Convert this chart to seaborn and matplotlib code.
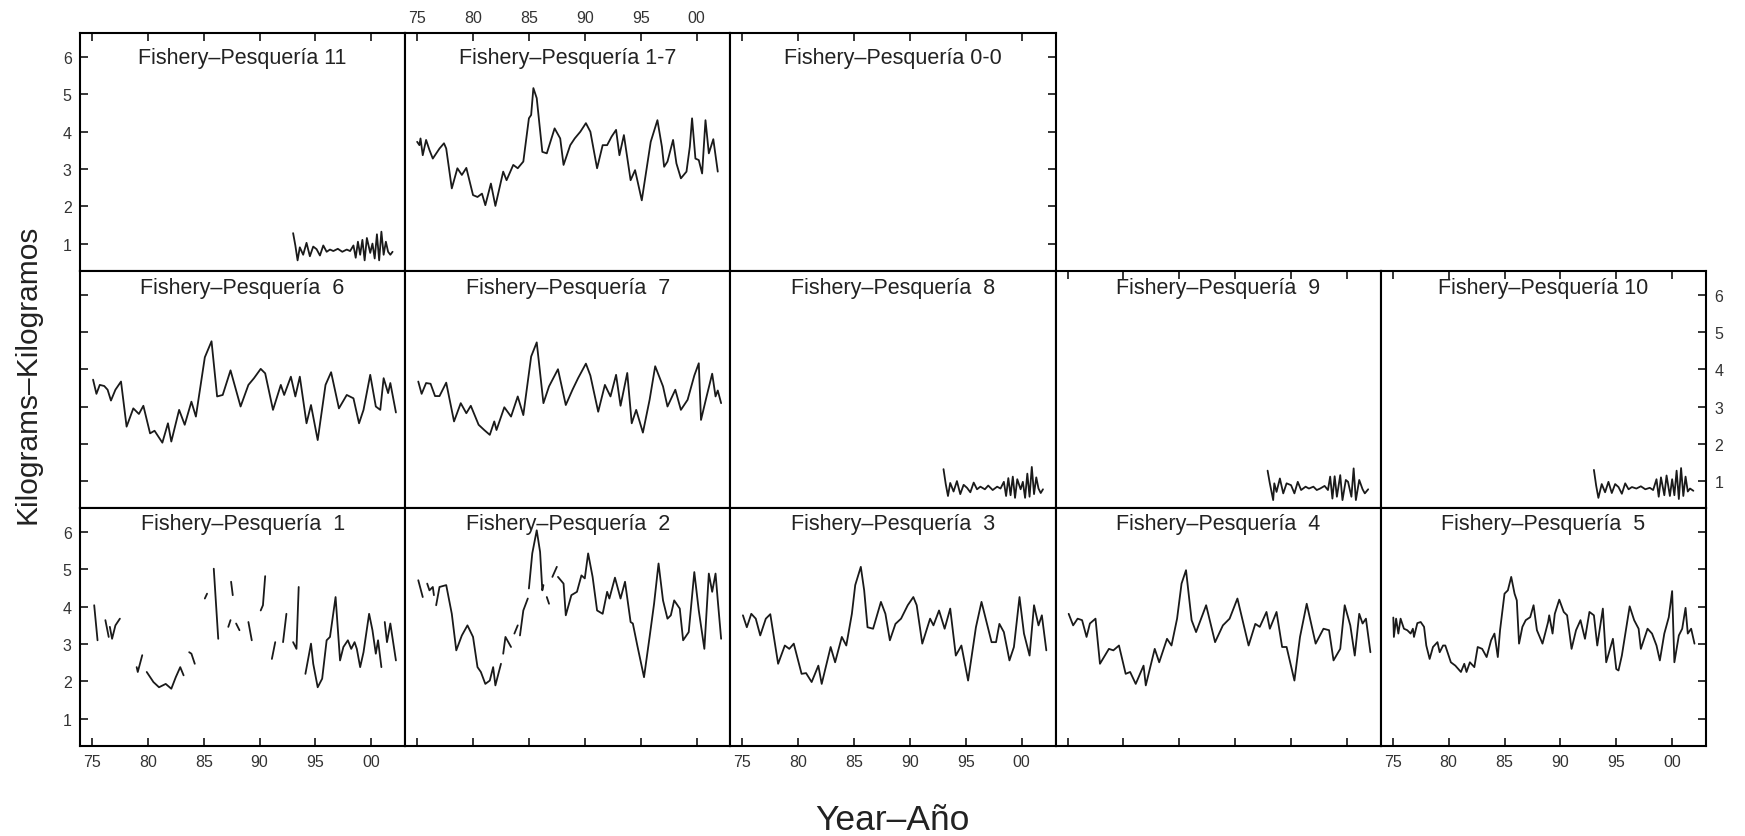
import numpy as np
import pandas as pd
import matplotlib
matplotlib.use('Agg')
import matplotlib.pyplot as plt
import seaborn as sns

nan = np.nan

# Fishery 1 (broken series, nan = gap)
yr_f1 = [1975.2, 1975.5, nan,
         1976.2, 1976.5, nan,
         1976.6, 1976.8, 1977.1, 1977.5, nan,
         1979.0, 1979.1, 1979.5, nan,
         1979.9, 1980.5, 1981.0, 1981.6, 1982.1, 1982.5, 1982.9, 1983.2, nan,
         1983.7, 1983.9, 1984.2, nan,
         1985.1, 1985.3, nan,
         1985.9, 1986.3, nan,
         1987.2, 1987.4, nan,
         1987.45, 1987.6, nan,
         1987.9, 1988.2, nan,
         1989.0, 1989.3, nan,
         1990.1, 1990.3, 1990.5, nan,
         1991.1, 1991.4, nan,
         1992.1, 1992.4, nan,
         1993.0, 1993.3, 1993.5, nan,
         1994.1, 1994.6, 1994.8, 1995.2, 1995.6, 1996.0, 1996.3, 1996.8, 1997.2,
         1997.5, 1997.9, 1998.2, 1998.5, 1998.7, 1999.0, 1999.3, 1999.8, 2000.1,
         2000.4, 2000.6, 2000.9, nan,
         2001.2, 2001.4, 2001.7, 2002.2]
kg_f1 = [4.04, 3.10, nan,
         3.64, 3.19, nan,
         3.46, 3.14, 3.50, 3.68, nan,
         2.38, 2.25, 2.70, nan,
         2.25, 1.98, 1.84, 1.93, 1.80, 2.11, 2.38, 2.16, nan,
         2.78, 2.74, 2.47, nan,
         4.22, 4.35, nan,
         5.02, 3.14, nan,
         3.46, 3.64, nan,
         4.67, 4.31, nan,
         3.55, 3.37, nan,
         3.59, 3.10, nan,
         3.90, 4.04, 4.82, nan,
         2.60, 3.05, nan,
         3.05, 3.81, nan,
         3.05, 2.87, 4.53, nan,
         2.20, 3.01, 2.47, 1.84, 2.07, 3.10, 3.19, 4.26, 2.56,
         2.92, 3.10, 2.87, 3.05, 2.87, 2.38, 2.78, 3.81, 3.37,
         2.74, 3.10, 2.38, nan,
         3.59, 3.05, 3.55, 2.56]

# Fishery 2 (broken series)
yr_f2 = [1975.1, 1975.5, nan,
         1975.9, 1976.1, 1976.4, 1976.5, nan,
         1976.7, 1977.0, 1977.6, 1978.1, 1978.5, 1979.0, 1979.5, 1980.0, 1980.4,
         1980.7, 1981.1, 1981.5, 1981.8, 1982.0, 1982.5, nan,
         1982.7, 1982.9, 1983.4, nan,
         1983.7, 1984.0, nan,
         1984.2, 1984.5, 1984.9, nan,
         1985.0, 1985.3, 1985.7, 1986.0, 1986.2, 1986.3, nan,
         1986.6, 1986.8, nan,
         1987.1, 1987.5, nan,
         1987.6, 1988.1, 1988.3, 1988.8, 1989.3, 1989.7, 1990.0, 1990.3, 1990.7,
         1991.1, 1991.6, 1992.0, 1992.2, 1992.7, 1993.2, 1993.6, 1994.1, 1994.3,
         1994.7, 1995.3, 1995.8, 1996.2, 1996.6, 1997.0, 1997.4, 1997.7, 1998.0,
         1998.5, 1998.8, 1999.3, 1999.8, 2000.2, 2000.7, 2001.1, 2001.4, 2001.7,
         2001.9, 2002.2]
kg_f2 = [4.71, 4.26, nan,
         4.62, 4.44, 4.53, 4.31, nan,
         4.04, 4.53, 4.58, 3.81, 2.83, 3.23, 3.50, 3.19, 2.38,
         2.25, 1.93, 2.02, 2.38, 1.89, 2.47, nan,
         2.74, 3.19, 2.92, nan,
         3.28, 3.50, nan,
         3.23, 3.90, 4.22, nan,
         4.49, 5.43, 6.05, 5.47, 4.44, 4.58, nan,
         4.26, 4.08, nan,
         4.80, 5.07, nan,
         4.80, 4.62, 3.77, 4.31, 4.40, 4.84, 4.76, 5.43, 4.80,
         3.90, 3.81, 4.40, 4.22, 4.78, 4.22, 4.67, 3.59, 3.55,
         2.96, 2.11, 3.19, 4.08, 5.16, 4.17, 3.68, 3.77, 4.17,
         3.95, 3.10, 3.32, 4.93, 3.90, 2.87, 4.89, 4.40, 4.89,
         4.17, 3.14]

yr_f3 = [1975.05, 1975.4, 1975.8, 1976.2, 1976.6, 1977.1, 1977.5, 1978.2, 1978.8, 1979.2,
         1979.6, 1980.3, 1980.7, 1981.2, 1981.8, 1982.1, 1982.9, 1983.3, 1983.9, 1984.3,
         1984.8, 1985.1, 1985.6, 1985.9, 1986.2, 1986.7, 1987.4, 1987.8, 1988.2, 1988.7,
         1989.2, 1989.8, 1990.3, 1990.6, 1991.1, 1991.8, 1992.1, 1992.6, 1993.1, 1993.6,
         1994.1, 1994.6, 1995.2, 1995.9, 1996.4, 1997.3, 1997.7, 1998.0, 1998.4, 1998.9,
         1999.3, 1999.8, 2000.2, 2000.7, 2001.1, 2001.5, 2001.8, 2002.2]
kg_f3 = [3.77, 3.45, 3.81, 3.68, 3.23, 3.68, 3.80, 2.47, 2.96, 2.87,
         3.01, 2.20, 2.22, 1.98, 2.42, 1.93, 2.92, 2.51, 3.19, 2.96,
         3.81, 4.58, 5.07, 4.44, 3.45, 3.41, 4.13, 3.81, 3.10, 3.54,
         3.68, 4.04, 4.26, 4.04, 3.01, 3.68, 3.50, 3.90, 3.41, 3.95,
         2.69, 2.96, 2.02, 3.45, 4.13, 3.05, 3.05, 3.54, 3.32, 2.56,
         2.92, 4.26, 3.28, 2.69, 4.04, 3.50, 3.77, 2.83]

yr_f4 = [1975.1, 1975.5, 1975.9, 1976.3, 1976.7, 1977.0, 1977.5, 1977.9, 1978.7, 1979.1,
         1979.6, 1980.2, 1980.6, 1981.1, 1981.8, 1982.0, 1982.8, 1983.2, 1983.9, 1984.3,
         1984.8, 1985.2, 1985.6, 1986.1, 1986.5, 1987.4, 1988.2, 1988.9, 1989.5, 1990.2,
         1991.2, 1991.8, 1992.2, 1992.8, 1993.1, 1993.7, 1994.2, 1994.6, 1995.3, 1995.8,
         1996.4, 1997.2, 1997.9, 1998.4, 1998.8, 1999.4, 1999.8, 2000.3, 2000.7, 2001.1,
         2001.4, 2001.7, 2002.1]
kg_f4 = [3.81, 3.50, 3.68, 3.64, 3.19, 3.55, 3.68, 2.47, 2.87, 2.83,
         2.96, 2.20, 2.25, 1.93, 2.42, 1.89, 2.87, 2.51, 3.14, 2.96,
         3.68, 4.62, 4.98, 3.64, 3.32, 4.04, 3.05, 3.50, 3.68, 4.22,
         2.96, 3.54, 3.46, 3.86, 3.41, 3.86, 2.92, 2.92, 2.02, 3.19,
         4.08, 3.01, 3.41, 3.37, 2.56, 2.87, 4.04, 3.50, 2.69, 3.81,
         3.55, 3.68, 2.78]

yr_f5 = [1975.05, 1975.1, 1975.3, 1975.5, 1975.7, 1976.0, 1976.3, 1976.6, 1976.8, 1976.9,
         1977.2, 1977.5, 1977.8, 1978.0, 1978.3, 1978.6, 1979.0, 1979.2, 1979.5, 1979.7,
         1980.2, 1980.6, 1981.1, 1981.4, 1981.6, 1981.9, 1982.3, 1982.6, 1983.0, 1983.4,
         1983.8, 1984.1, 1984.4, 1984.6, 1985.0, 1985.3, 1985.6, 1985.9, 1986.1, 1986.3,
         1986.6, 1986.9, 1987.3, 1987.6, 1987.9, 1988.4, 1988.9, 1989.0, 1989.3, 1989.5,
         1989.9, 1990.3, 1990.6, 1991.0, 1991.4, 1991.8, 1992.2, 1992.6, 1993.0, 1993.3,
         1993.8, 1994.1, 1994.7, 1995.0, 1995.2, 1995.5, 1996.2, 1996.6, 1997.0, 1997.2,
         1997.8, 1998.2, 1998.6, 1998.9, 1999.3, 1999.7, 2000.0, 2000.2, 2000.6, 2000.9,
         2001.2, 2001.4, 2001.7, 2002.0]
kg_f5 = [3.71, 3.19, 3.68, 3.28, 3.68, 3.41, 3.37, 3.28, 3.41, 3.19,
         3.56, 3.59, 3.46, 2.96, 2.60, 2.92, 3.05, 2.78, 2.96, 2.96,
         2.51, 2.42, 2.25, 2.47, 2.25, 2.51, 2.38, 2.92, 2.87, 2.65,
         3.10, 3.28, 2.65, 3.37, 4.35, 4.44, 4.80, 4.35, 4.17, 3.01,
         3.46, 3.64, 3.72, 4.04, 3.37, 3.01, 3.59, 3.77, 3.28, 3.81,
         4.19, 3.86, 3.77, 2.87, 3.37, 3.64, 3.14, 3.86, 3.77, 2.96,
         3.95, 2.51, 3.14, 2.33, 2.29, 2.69, 4.01, 3.64, 3.41, 2.87,
         3.41, 3.28, 2.96, 2.56, 3.28, 3.72, 4.42, 2.51, 3.23, 3.41,
         3.97, 3.28, 3.41, 3.01]

yr_f6 = [1975.1, 1975.4, 1975.7, 1976.1, 1976.4, 1976.7, 1977.1, 1977.6, 1978.1, 1978.7,
         1979.2, 1979.6, 1980.2, 1980.6, 1981.3, 1981.8, 1982.1, 1982.8, 1983.3, 1983.9,
         1984.3, 1985.1, 1985.7, 1986.2, 1986.7, 1987.4, 1988.3, 1989.0, 1989.5, 1990.1,
         1990.5, 1991.2, 1991.9, 1992.2, 1992.8, 1993.2, 1993.6, 1994.2, 1994.6, 1995.2,
         1995.9, 1996.4, 1997.1, 1997.8, 1998.4, 1998.9, 1999.3, 1999.9, 2000.4, 2000.8,
         2001.1, 2001.5, 2001.7, 2002.2]
kg_f6 = [3.72, 3.34, 3.58, 3.55, 3.45, 3.16, 3.45, 3.67, 2.46, 2.95,
         2.80, 3.02, 2.28, 2.35, 2.03, 2.55, 2.06, 2.91, 2.51, 3.13,
         2.73, 4.32, 4.75, 3.27, 3.31, 3.97, 3.00, 3.58, 3.76, 4.01,
         3.89, 2.91, 3.58, 3.31, 3.80, 3.27, 3.80, 2.55, 3.04, 2.10,
         3.58, 3.92, 2.95, 3.31, 3.22, 2.55, 2.91, 3.85, 3.00, 2.91,
         3.76, 3.36, 3.63, 2.84]

yr_f7 = [1975.1, 1975.4, 1975.8, 1976.2, 1976.6, 1977.0, 1977.6, 1978.3, 1978.9, 1979.4,
         1979.8, 1980.5, 1981.0, 1981.5, 1981.9, 1982.1, 1982.8, 1983.4, 1984.0, 1984.5,
         1985.2, 1985.7, 1986.3, 1986.8, 1987.6, 1988.3, 1988.9, 1989.4, 1990.1, 1990.5,
         1991.2, 1991.8, 1992.3, 1992.8, 1993.2, 1993.8, 1994.2, 1994.6, 1995.2, 1995.8,
         1996.3, 1997.0, 1997.4, 1998.1, 1998.6, 1999.2, 1999.8, 2000.2, 2000.4, 2000.9,
         2001.4, 2001.7, 2001.9, 2002.2]
kg_f7 = [3.67, 3.34, 3.63, 3.61, 3.28, 3.28, 3.64, 2.60, 3.09, 2.82,
         3.02, 2.51, 2.37, 2.24, 2.60, 2.37, 2.98, 2.73, 3.27, 2.77,
         4.34, 4.72, 3.09, 3.54, 4.00, 3.04, 3.45, 3.76, 4.15, 3.83,
         2.86, 3.58, 3.27, 3.85, 3.02, 3.90, 2.55, 2.91, 2.30, 3.18,
         4.08, 3.54, 3.00, 3.45, 2.91, 3.18, 3.83, 4.16, 2.64, 3.27,
         3.88, 3.27, 3.43, 3.09]

yr_f17 = [1975.0, 1975.2, 1975.3, 1975.5, 1975.8, 1976.1, 1976.4, 1977.0, 1977.4, 1977.6,
          1978.1, 1978.6, 1979.0, 1979.4, 1980.0, 1980.4, 1980.8, 1981.1, 1981.6, 1982.0,
          1982.7, 1983.0, 1983.6, 1984.0, 1984.5, 1985.0, 1985.2, 1985.4, 1985.7, 1986.2,
          1986.6, 1987.3, 1987.8, 1988.1, 1988.7, 1989.1, 1989.6, 1990.1, 1990.5, 1991.1,
          1991.6, 1992.0, 1992.4, 1992.8, 1993.1, 1993.5, 1994.1, 1994.5, 1995.1, 1995.9,
          1996.5, 1996.9, 1997.1, 1997.4, 1997.9, 1998.2, 1998.6, 1999.1, 1999.4, 1999.6,
          1999.9, 2000.2, 2000.5, 2000.8, 2001.1, 2001.5, 2001.9]
kg_f17 = [3.73, 3.64, 3.82, 3.37, 3.78, 3.51, 3.28, 3.55, 3.69, 3.55,
          2.48, 3.02, 2.84, 3.03, 2.30, 2.25, 2.34, 2.03, 2.61, 2.01,
          2.93, 2.70, 3.11, 3.02, 3.20, 4.36, 4.45, 5.17, 4.90, 3.46,
          3.42, 4.09, 3.82, 3.11, 3.64, 3.82, 4.00, 4.23, 4.00, 3.02,
          3.64, 3.64, 3.87, 4.05, 3.37, 3.91, 2.70, 2.97, 2.16, 3.73,
          4.31, 3.60, 3.06, 3.20, 3.78, 3.15, 2.75, 2.93, 3.60, 4.36,
          3.28, 3.24, 2.88, 4.31, 3.42, 3.80, 2.93]

# short, low series (fisheries 8-11), start in 1993
yr_f8 = [1993.0, 1993.2, 1993.4, 1993.6, 1993.9, 1994.2, 1994.5, 1994.8, 1995.1, 1995.4,
         1995.7, 1996.0, 1996.3, 1996.7, 1997.0, 1997.4, 1997.8, 1998.1, 1998.4, 1998.6,
         1998.8, 1999.0, 1999.2, 1999.4, 1999.6, 1999.9, 2000.1, 2000.3, 2000.5, 2000.7,
         2000.9, 2001.1, 2001.3, 2001.5, 2001.7, 2001.9]
kg_f8 = [1.32, 0.92, 0.60, 0.95, 0.72, 1.00, 0.65, 0.90, 0.82, 0.70,
         0.96, 0.78, 0.85, 0.78, 0.88, 0.76, 0.85, 0.80, 0.98, 0.60,
         1.08, 0.62, 1.12, 0.55, 1.05, 0.78, 0.98, 0.55, 1.20, 0.58,
         1.38, 0.65, 1.10, 0.80, 0.68, 0.78]

yr_f9 = [1992.9, 1993.1, 1993.4, 1993.5, 1993.7, 1994.0, 1994.3, 1994.6, 1995.0, 1995.3,
         1995.6, 1995.9, 1996.3, 1996.6, 1997.0, 1997.3, 1997.6, 1998.0, 1998.3, 1998.5,
         1998.7, 1998.9, 1999.1, 1999.4, 1999.6, 1999.9, 2000.1, 2000.4, 2000.6, 2000.8,
         2001.1, 2001.4, 2001.6, 2001.9]
kg_f9 = [1.28, 0.94, 0.49, 0.94, 0.71, 1.07, 0.67, 0.94, 0.89, 0.67,
         0.98, 0.76, 0.85, 0.80, 0.85, 0.76, 0.80, 0.87, 0.76, 1.12,
         0.53, 1.13, 0.58, 1.16, 0.49, 1.03, 0.98, 0.58, 1.34, 0.49,
         1.03, 0.78, 0.67, 0.78]

yr_f10 = [1993.0, 1993.2, 1993.4, 1993.7, 1994.0, 1994.3, 1994.6, 1994.9, 1995.2, 1995.5,
          1995.8, 1996.1, 1996.4, 1996.8, 1997.2, 1997.6, 1998.0, 1998.3, 1998.6, 1998.8,
          1999.0, 1999.3, 1999.5, 1999.8, 2000.0, 2000.2, 2000.4, 2000.6, 2000.8, 2001.0,
          2001.2, 2001.4, 2001.6, 2001.9]
kg_f10 = [1.30, 0.88, 0.55, 0.92, 0.70, 0.98, 0.68, 0.92, 0.84, 0.66,
          0.94, 0.78, 0.84, 0.80, 0.86, 0.78, 0.82, 0.76, 1.05, 0.58,
          1.10, 0.62, 1.15, 0.60, 1.05, 0.62, 1.28, 0.52, 1.35, 0.60,
          1.12, 0.72, 0.80, 0.74]

yr_f11 = [1993.0, 1993.2, 1993.4, 1993.6, 1993.9, 1994.2, 1994.5, 1994.8, 1995.1, 1995.4,
          1995.7, 1996.0, 1996.3, 1996.6, 1997.0, 1997.4, 1997.8, 1998.1, 1998.4, 1998.6,
          1998.8, 1999.0, 1999.2, 1999.4, 1999.6, 1999.9, 2000.1, 2000.3, 2000.5, 2000.7,
          2000.9, 2001.1, 2001.3, 2001.5, 2001.7, 2001.9]
kg_f11 = [1.28, 0.95, 0.55, 0.90, 0.70, 1.02, 0.66, 0.92, 0.85, 0.68,
          0.95, 0.78, 0.84, 0.80, 0.86, 0.78, 0.84, 0.80, 0.95, 0.62,
          1.05, 0.70, 1.10, 0.55, 1.15, 0.75, 1.00, 0.60, 1.25, 0.55,
          1.32, 0.70, 1.05, 0.78, 0.70, 0.78]

x_ticks = [1975, 1980, 1985, 1990, 1995, 2000]
x_tick_labels = ['75', '80', '85', '90', '95', '00']
y_ticks = [1, 2, 3, 4, 5, 6]

# panel name -> (row, col, data)
panels = {
    '11':  (0, 0, yr_f11, kg_f11),
    '1-7': (0, 1, yr_f17, kg_f17),
    '0-0': (0, 2, [], []),
    ' 6':  (1, 0, yr_f6, kg_f6),
    ' 7':  (1, 1, yr_f7, kg_f7),
    ' 8':  (1, 2, yr_f8, kg_f8),
    ' 9':  (1, 3, yr_f9, kg_f9),
    '10':  (1, 4, yr_f10, kg_f10),
    ' 1':  (2, 0, yr_f1, kg_f1),
    ' 2':  (2, 1, yr_f2, kg_f2),
    ' 3':  (2, 2, yr_f3, kg_f3),
    ' 4':  (2, 3, yr_f4, kg_f4),
    ' 5':  (2, 4, yr_f5, kg_f5),
}

sns.set_theme(style='white')
plt.rcParams['font.family'] = ['Liberation Sans', 'DejaVu Sans']

W_PX, H_PX = 1745, 837
fig = plt.figure(figsize=(W_PX / 100, H_PX / 100), dpi=100)

left0, top0 = 80, 34.3
pw, ph = 325.2, 237.5
title_off = [24, 17, 15]  # px below panel top, per row

for name, (r, c, yrs, kgs) in panels.items():
    rect = [(left0 + c * pw) / W_PX, 1 - (top0 + (r + 1) * ph) / H_PX, pw / W_PX, ph / H_PX]
    ax = fig.add_axes(rect)

    if len(yrs):
        df = pd.DataFrame({'year': yrs, 'kg': kgs})
        df['seg'] = df['kg'].isna().cumsum()
        df = df.dropna()
        sns.lineplot(data=df, x='year', y='kg', units='seg', estimator=None,
                     sort=False, color='#1a1a1a', lw=1.3, ax=ax)

    ax.set_xlim(1973.93, 2003.03)
    ax.set_ylim(0.27, 6.64)
    ax.set_xticks(x_ticks)
    ax.set_xticklabels(x_tick_labels)
    ax.set_yticks(y_ticks)
    ax.set_xlabel('')
    ax.set_ylabel('')
    for sp in ax.spines.values():
        sp.set_color('black')
        sp.set_linewidth(1.5)

    outer_left = c == 0
    outer_right = c == 4 or (r == 0 and c == 2)
    outer_top = r == 0 or (r == 1 and c >= 3)
    outer_bottom = r == 2
    ax.tick_params(axis='both', direction='in', length=6, width=1.1, color='black',
                   labelcolor='#333333', labelsize=11.5, pad=6,
                   left=outer_left, right=outer_right, top=outer_top, bottom=outer_bottom,
                   labelleft=outer_left and r != 1, labelright=(r == 1 and c == 4),
                   labeltop=(r == 0 and c == 1), labelbottom=(r == 2 and c % 2 == 0))

    ax.text(0.5, 1 - title_off[r] / ph, f'Fishery\u2013Pesquer\u00eda {name}',
            transform=ax.transAxes, ha='center', va='center', fontsize=15.5, color='#222222')

fig.text(28 / W_PX, 1 - 374 / H_PX, 'Kilograms\u2013Kilogramos', rotation=90,
         ha='center', va='center', fontsize=21.5, color='#222222')
fig.text(892 / W_PX, 1 - 821 / H_PX, 'Year\u2013A\u00f1o',
         ha='center', va='center', fontsize=25.5, color='#222222')

fig.savefig('out.png', dpi=100, facecolor='white')
